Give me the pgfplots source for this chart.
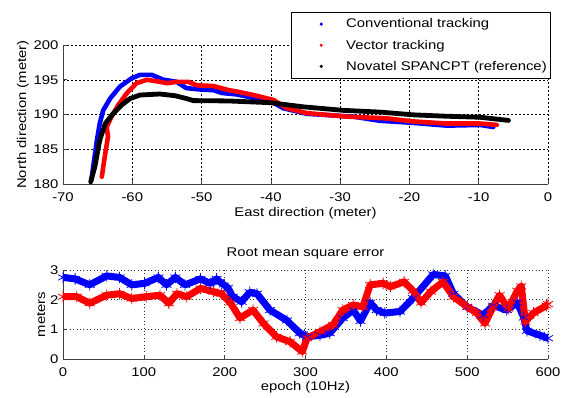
\documentclass[border=0pt]{standalone}
\usepackage{fontspec}
\setmainfont[FakeStretch=1.18]{Liberation Sans}
\usepackage{pgfplots}
\pgfplotsset{compat=1.18}
\begin{document}
\begin{tikzpicture}
\path[use as bounding box] (0pt,0pt) rectangle (569pt,397pt);
\pgfplotsset{
  every axis/.append style={
    font=\fontsize{12.6}{14}\selectfont,
    scale only axis,
    /pgf/number format/assume math mode=true,
    axis x line*=bottom, axis y line*=left,
    axis line style={black!75, line width=0.8pt, -},
    tick style={black!75, line width=0.6pt},
    tick align=inside, major tick length=4pt,
    grid=major,
    xticklabel style={yshift=-5pt},
    yticklabel style={xshift=-1pt},
  },
  dotlegend/.style={legend image code/.code={\path[draw=none,fill=none] (0pt,0) -- (52pt,0); \fill[##1, draw=none] (29pt,0) circle (1.7pt);}},
}
% ---------------- top axis ----------------
\begin{axis}[
  at={(63pt,213pt)}, anchor=south west,
  width=485pt, height=139pt,
  xmin=-70, xmax=0, ymin=180, ymax=200,
  xtick={-70,-60,...,0}, ytick={180,185,...,200},
  xlabel={East direction (meter)},
  ylabel={North direction (meter)},
  xlabel style={yshift=1pt},
  ylabel style={yshift=-2pt},
  major grid style={black, line width=0.5pt, dash pattern=on 2pt off 2pt},
  legend style={at={(rel axis cs:1.004,1.237)}, anchor=north east,
    draw=black, fill=white, font=\fontsize{12.6}{14}\selectfont,
    row sep=6.5pt, inner xsep=1pt, inner ysep=4.5pt, nodes={line width=0.1pt}},
  legend cell align=left,
]
\addplot[blue, line width=4.6pt, line cap=round, line join=round, dotlegend] coordinates {
(-65.9,180.6) (-65.5,183.5) (-65.1,186.3) (-64.7,188.7) (-64.2,190.6) (-63.2,192.3)
(-61.8,194.0) (-60.1,195.2) (-58.9,195.7) (-57.2,195.7) (-55.5,195.0) (-53.6,194.7)
(-52.2,193.8) (-50.2,193.6) (-48.3,193.5) (-47.1,193.1) (-45.0,192.9) (-42.5,192.4)
(-40.0,191.9) (-38.2,190.9) (-34.8,190.1) (-30.0,189.8) (-28.1,189.7) (-24.3,189.1)
(-19.5,188.8) (-14.6,188.4) (-9.8,188.5) (-7.9,188.2)
};
\addlegendentry{Conventional tracking}
\addplot[red, line width=4.6pt, line cap=round, line join=round, dotlegend] coordinates {
(-64.4,181.05) (-63.9,184.4) (-63.5,186.8) (-63.7,188.2) (-63.0,189.7) (-62.0,191.4)
(-60.8,193.05) (-59.4,194.5) (-57.9,195.0) (-56.0,194.7) (-55.0,194.5) (-53.6,194.7)
(-51.9,194.7) (-50.7,194.2) (-48.3,194.1) (-46.1,193.5) (-44.9,193.3) (-42.5,192.8)
(-39.65,192.1) (-37.7,190.9) (-34.8,190.2) (-29.1,189.7) (-23.3,189.45) (-19.45,189.0)
(-14.6,188.7) (-9.8,188.7) (-7.4,188.5)
};
\addlegendentry{Vector tracking}
\addplot[black, line width=4.8pt, line cap=round, line join=round, dotlegend] coordinates {
(-66.0,180.3) (-65.4,182.5) (-64.7,186.3) (-63.9,188.7) (-62.7,190.2) (-61.5,191.4)
(-60.3,192.3) (-58.9,192.8) (-56.0,192.95) (-53.8,192.7) (-52.2,192.3) (-51.2,192.0)
(-46.1,191.95) (-40.1,191.7) (-35.3,191.1) (-29.6,190.6) (-24.3,190.35) (-19.45,189.95)
(-14.6,189.75) (-9.8,189.6) (-5.7,189.15)
};
\addlegendentry{Novatel SPANCPT (reference)}
\end{axis}
% ---------------- bottom axis ----------------
\begin{axis}[
  at={(63pt,38pt)}, anchor=south west,
  width=485pt, height=89pt,
  xmin=0, xmax=600, ymin=0, ymax=3,
  xtick={0,100,...,600}, ytick={0,1,2,3},
  xlabel={epoch (10Hz)},
  ylabel={meters},
  title={Root mean square error},
  title style={yshift=1pt},
  xlabel style={yshift=2pt},
  ylabel style={yshift=-2pt},
  major grid style={black!80, line width=0.6pt, dash pattern=on 0.8pt off 2.6pt},
]
\addplot[blue, line width=7pt, line join=round, line cap=round,
  mark=asterisk, mark size=5.5pt, mark options={line width=0.8pt}] coordinates {
(0,2.75) (15,2.7) (33,2.5) (54,2.8) (70,2.75) (85,2.5) (101,2.55) (118,2.75) (128,2.5)
(139,2.75) (151,2.5) (170,2.7) (182,2.55) (190,2.7) (194,2.6) (204,2.4) (210,2.1)
(221,1.93) (231,2.25) (240,2.2) (256,1.65) (277,1.3) (293,0.87) (302,0.75) (318,0.8)
(330,0.87) (346,1.38) (359,1.65) (368,1.28) (380,1.9) (388,1.65) (398,1.55) (417,1.6)
(433,2.05) (458,2.85) (473,2.8) (483,2.2) (500,1.75) (520,1.48) (532,1.8) (549,1.65)
(562,1.9) (570,1.4) (574,0.95) (590,0.8) (600,0.7)
};
\addplot[red, line width=7pt, line join=round, line cap=round,
  mark=asterisk, mark size=5.5pt, mark options={line width=0.8pt}] coordinates {
(0,2.1) (17,2.1) (33,1.88) (54,2.15) (70,2.2) (85,2.04) (103,2.1) (120,2.15) (131,1.88)
(141,2.2) (153,2.1) (170,2.38) (186,2.27) (196,2.2) (207,1.9) (219,1.38) (235,1.65)
(248,1.2) (264,0.75) (281,0.58) (296,0.25) (302,0.7) (318,0.92) (334,1.15) (346,1.65)
(359,1.82) (371,1.76) (380,2.5) (396,2.55) (405,2.44) (422,2.6) (433,2.3) (443,1.9)
(455,2.27) (470,2.6) (483,2.1) (500,1.76) (512,1.55) (522,1.2) (532,1.76) (540,2.15)
(551,1.7) (562,2.3) (567,2.45) (572,1.26) (582,1.55) (598,1.8) (600,1.85)
};
\end{axis}
\end{tikzpicture}
\end{document}
